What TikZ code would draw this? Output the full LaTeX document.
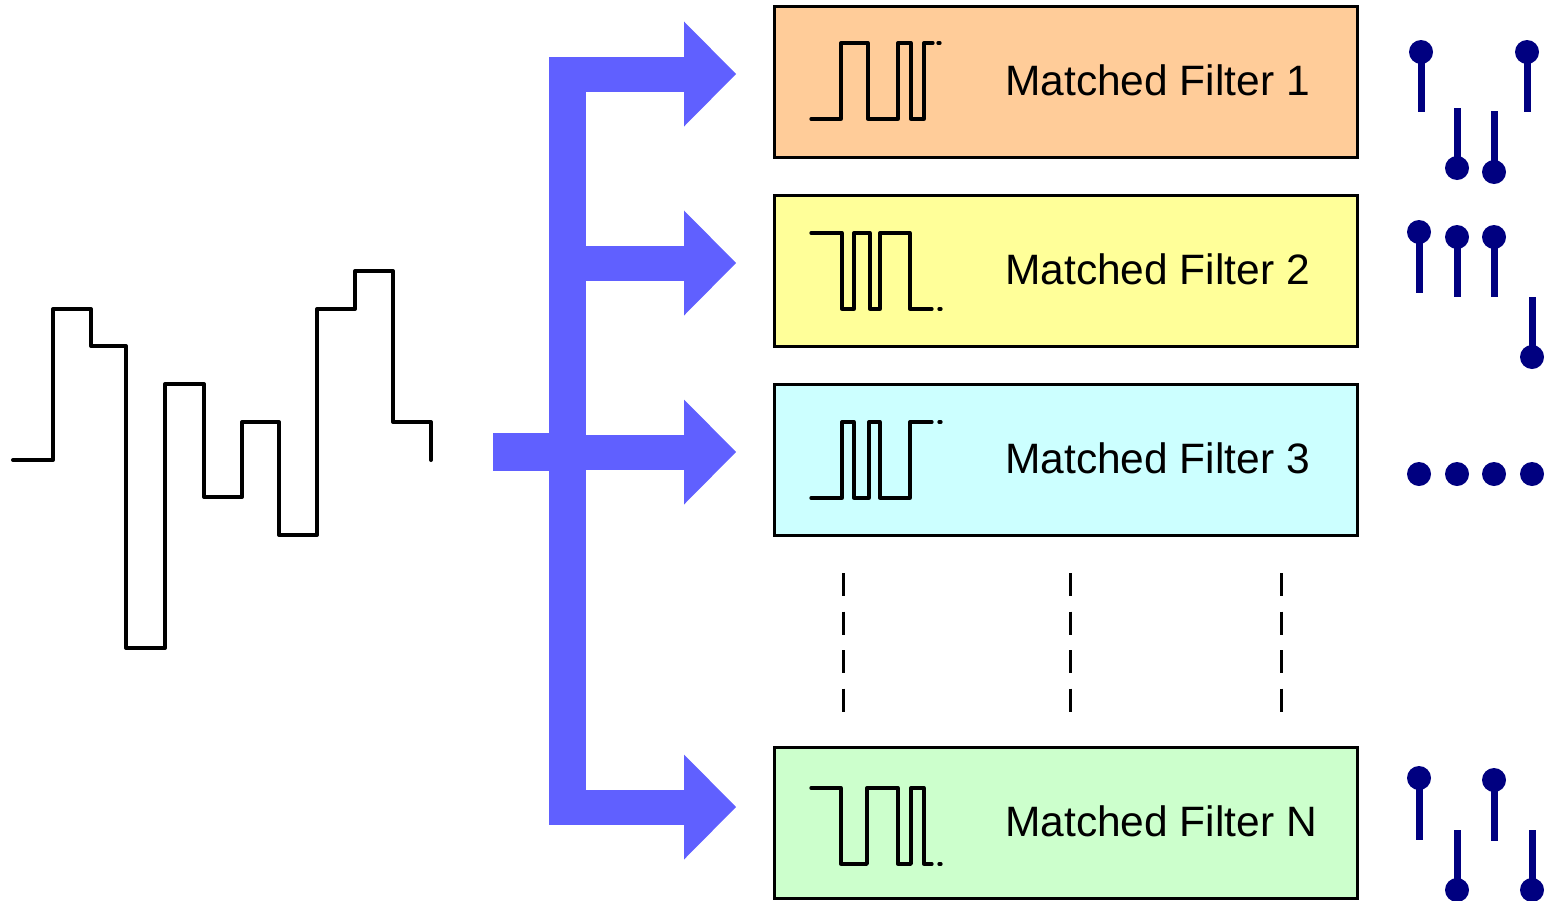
\documentclass[tikz,border=0pt]{standalone}
\usepackage{fontspec}
\setmainfont{Liberation Sans}
\definecolor{busblue}{RGB}{96,96,255}
\definecolor{stemnavy}{RGB}{0,0,128}
\definecolor{mfone}{RGB}{255,204,153}
\definecolor{mftwo}{RGB}{255,255,153}
\definecolor{mfthree}{RGB}{204,255,255}
\definecolor{mfn}{RGB}{204,255,204}
\newcommand\lolli[3]{%
  \draw[stemline] (#1,#2) -- (#1,#3);
  \fill[stemnavy] (#1,#2) circle (12);}
\begin{document}
\begin{tikzpicture}[x=1pt,y=-1pt,
  filterbox/.style={draw=black,line width=3pt,minimum width=583pt,
    minimum height=151pt,inner sep=0pt},
  filterlabel/.style={anchor=base west,inner sep=0pt,
    font=\fontsize{42.5}{51}\selectfont},
  signal/.style={line width=4pt,line join=round,line cap=round},
  pulse/.style={line width=3.3pt,line join=round,line cap=round},
  guide/.style={line width=3pt,dash pattern=on 23pt off 15.5pt},
  stemline/.style={line width=7pt,stemnavy}]
\useasboundingbox (0,0) rectangle (1549,900);

% received signal
\draw[signal] (13,460) -- (53,460) -- (53,309) -- (91,309) -- (91,346)
  -- (126,346) -- (126,648) -- (165,648) -- (165,384) -- (204,384)
  -- (204,497) -- (242,497) -- (242,422) -- (279,422) -- (279,535)
  -- (317,535) -- (317,309) -- (355,309) -- (355,271) -- (393,271)
  -- (393,422) -- (431,422) -- (431,460);

% distribution bus with four branch arrows
\begin{scope}[fill=busblue]
  \fill (549,57) rectangle (586,825);
  \fill (493,433) rectangle (549,471);
  \foreach \yc in {74,263,452,807}{
    \fill (586,\yc-17.5) rectangle (685,\yc+17.5);
    \fill (684,\yc-52.5) -- (736,\yc) -- (684,\yc+52.5) -- cycle;
  }
\end{scope}

% filter bank
\node[filterbox,fill=mfone]   (mf1) at (1065.5,81.5) {};
\node[filterbox,fill=mftwo]   (mf2) at (1065.5,271)  {};
\node[filterbox,fill=mfthree] (mf3) at (1065.5,460)  {};
\node[filterbox,fill=mfn]     (mfN) at (1065.5,822.5) {};

\node[filterlabel] (l1) at (1005,95)  {Matched Filter 1};
\node[filterlabel] (l2) at (1005,284) {Matched Filter 2};
\node[filterlabel] (l3) at (1005,473) {Matched Filter 3};
\node[filterlabel] (lN) at (1005,836) {Matched Filter N};

% code templates
\draw[pulse] (811,119) -- (841,119) -- (841,43) -- (868,43) -- (868,119)
  -- (898,119) -- (898,43) -- (911,43) -- (911,119) -- (924,119)
  -- (924,43) -- (933,43);
\draw[pulse] (938,43) -- (940,43);
\draw[pulse] (811,233) -- (842,233) -- (842,309) -- (854,309) -- (854,233)
  -- (870,233) -- (870,309) -- (880,309) -- (880,233) -- (910,233)
  -- (910,309) -- (932,309);
\draw[pulse] (939,309) -- (941,309);
\draw[pulse] (811,498) -- (842,498) -- (842,422) -- (854,422) -- (854,498)
  -- (869,498) -- (869,422) -- (880,422) -- (880,498) -- (910,498)
  -- (910,422) -- (932,422);
\draw[pulse] (939,422) -- (941,422);
\draw[pulse] (811,788) -- (841,788) -- (841,864) -- (867,864) -- (867,788)
  -- (898,788) -- (898,864) -- (911,864) -- (911,788) -- (924,788)
  -- (924,864) -- (932,864);
\draw[pulse] (939,864) -- (941,864);

% omitted filters
\foreach \xg in {843,1070,1281}
  \draw[guide] (\xg,573) -- (\xg,712);

% filter outputs
\lolli{1421}{52}{112}
\lolli{1457}{168}{108}
\lolli{1494}{172}{111}
\lolli{1527}{52}{112}

\lolli{1419}{232}{293}
\lolli{1457}{237}{297}
\lolli{1494}{237}{297}
\lolli{1532}{357}{297}

\foreach \xd in {1419,1457,1494,1532}
  \fill[stemnavy] (\xd,474) circle (12);

\lolli{1419}{778}{840}
\lolli{1457}{890}{830}
\lolli{1494}{780}{841}
\lolli{1532}{890}{830}
\end{tikzpicture}
\end{document}
